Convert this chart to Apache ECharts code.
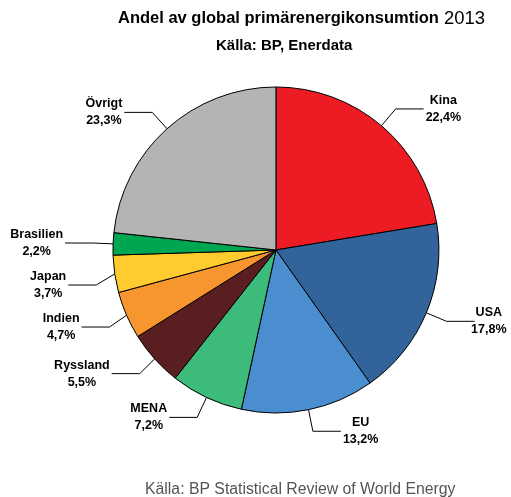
<!DOCTYPE html>
<html><head><meta charset="utf-8">
<script src="https://cdn.jsdelivr.net/npm/echarts@6/dist/echarts.min.js"></script>
<style>html,body{margin:0;padding:0;background:#fff}#c{width:511px;height:497px}</style>
</head><body><div id="c"></div>
<script>
const categories = ['Kina','USA','EU','MENA','Ryssland','Indien','Japan','Brasilien','Övrigt'];
const values = [22.4, 17.8, 13.2, 7.2, 5.5, 4.7, 3.7, 2.2, 23.3];
const colors = ['#ED1C24','#32639A','#4B8ECF','#3DBB7A','#5A1E20','#F7962F','#FFCB2E','#00A651','#B3B5B5'];

const chart = echarts.init(document.getElementById('c'), null, {renderer:'canvas'});
chart.setOption({
  animation:false,
  title:[
    {text:'{b|Andel av global primärenergikonsumtion} {n|2013}', left:113, top:4,
      textStyle:{rich:{b:{fontFamily:'Liberation Sans',fontWeight:'bold',fontSize:16.5,color:'#000'},
                      n:{fontFamily:'Liberation Sans',fontWeight:'normal',fontSize:18.5,color:'#000'}}}},
    {text:'Källa: BP, Enerdata', left:211, top:33, textStyle:{fontFamily:'Liberation Sans',fontWeight:'bold',fontSize:15,color:'#000'}},
    {text:'Källa: BP Statistical Review of World Energy', left:140, top:477, textStyle:{fontFamily:'Liberation Sans',fontWeight:'normal',fontSize:15.8,color:'#555'}}
  ],
  series:[{
    type:'pie',
    center:['54%','50.3%'],
    radius:163,
    startAngle:90,
    clockwise:true,
    avoidLabelOverlap:true,
    data:categories.map((n,i)=>({name:n,value:values[i],itemStyle:{color:colors[i]}})),
    itemStyle:{borderColor:'#000',borderWidth:1},
    label:{
      show:true,
      overflow:'none',
      minMargin:12,
      formatter:p=>'{a|'+p.name+'}\n{a|'+p.value.toFixed(1).replace('.',',')+'%}',
      rich:{a:{fontFamily:'Liberation Sans',fontWeight:'bold',fontSize:12.5,color:'#000',align:'center',lineHeight:17}},
      distanceToLabelLine:2
    },
    labelLine:{show:true,length:22,length2:28,lineStyle:{color:'#000',width:1}},
    emphasis:{disabled:true}
  }]
});
</script></body></html>
